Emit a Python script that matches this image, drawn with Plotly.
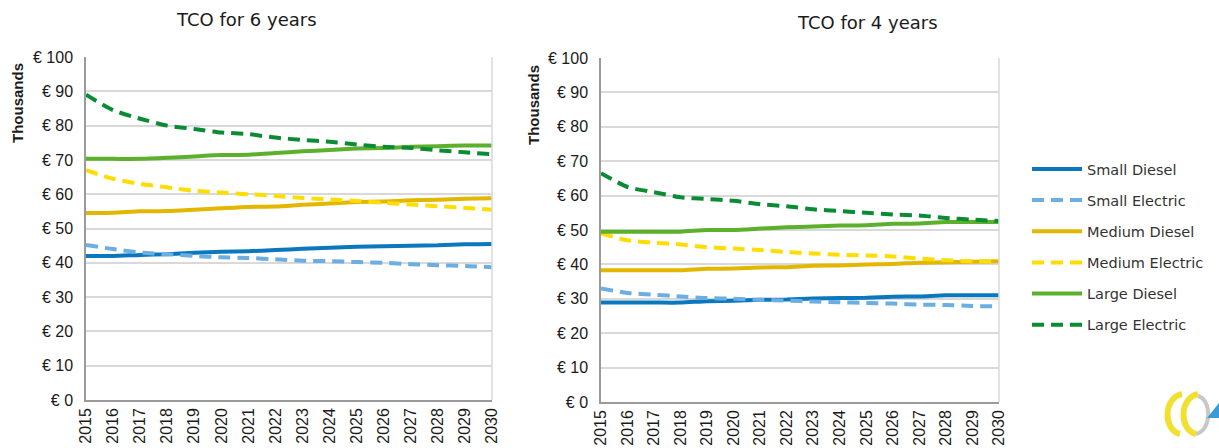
import plotly.graph_objects as go

years = list(range(2015, 2031))
series_names = ["Small Diesel", "Small Electric", "Medium Diesel", "Medium Electric", "Large Diesel", "Large Electric"]

# TCO for 6 years (thousands of euro)
small_diesel_6 = [42.0, 42.0, 42.3, 42.5, 42.9, 43.2, 43.4, 43.7, 44.1, 44.4, 44.7, 44.8, 45.0, 45.1, 45.4, 45.5]
small_electric_6 = [45.2, 44.0, 43.0, 42.5, 42.0, 41.6, 41.4, 41.0, 40.6, 40.5, 40.2, 40.0, 39.6, 39.3, 39.1, 38.7]
medium_diesel_6 = [54.5, 54.6, 55.0, 55.1, 55.5, 55.9, 56.3, 56.4, 56.9, 57.3, 57.7, 57.9, 58.2, 58.4, 58.7, 58.8]
medium_electric_6 = [67.0, 64.5, 63.0, 62.0, 61.0, 60.5, 60.0, 59.5, 58.9, 58.5, 58.0, 57.5, 57.0, 56.5, 56.0, 55.5]
large_diesel_6 = [70.3, 70.3, 70.3, 70.6, 71.0, 71.4, 71.5, 72.0, 72.5, 72.9, 73.3, 73.5, 73.8, 74.0, 74.2, 74.2]
large_electric_6 = [89.0, 84.5, 82.0, 80.0, 79.0, 78.0, 77.5, 76.5, 75.8, 75.3, 74.5, 73.8, 73.5, 72.8, 72.2, 71.7]

# TCO for 4 years (thousands of euro)
small_diesel_4 = [28.9, 28.9, 28.9, 28.9, 29.3, 29.4, 29.7, 29.8, 30.1, 30.2, 30.3, 30.6, 30.7, 31.0, 31.0, 31.0]
small_electric_4 = [33.0, 31.7, 31.2, 30.7, 30.2, 30.0, 29.7, 29.5, 29.2, 29.0, 28.8, 28.6, 28.3, 28.2, 27.9, 27.8]
medium_diesel_4 = [38.3, 38.3, 38.3, 38.3, 38.7, 38.8, 39.1, 39.2, 39.6, 39.7, 40.0, 40.1, 40.5, 40.6, 40.8, 40.9]
medium_electric_4 = [49.0, 47.0, 46.3, 45.8, 45.0, 44.6, 44.2, 43.6, 43.2, 42.8, 42.6, 42.3, 41.7, 41.2, 40.9, 40.9]
large_diesel_4 = [49.5, 49.5, 49.5, 49.5, 50.0, 50.0, 50.4, 50.8, 51.0, 51.3, 51.4, 51.8, 51.9, 52.3, 52.3, 52.3]
large_electric_4 = [66.5, 62.5, 61.0, 59.5, 59.0, 58.5, 57.5, 56.9, 56.0, 55.5, 55.0, 54.5, 54.2, 53.5, 53.0, 52.6]

y_tick_values = [0, 10, 20, 30, 40, 50, 60, 70, 80, 90, 100]
y_tick_labels = ["€ " + str(v) for v in y_tick_values]
titles = ["TCO for 6 years", "TCO for 4 years"]

data6 = [small_diesel_6, small_electric_6, medium_diesel_6, medium_electric_6, large_diesel_6, large_electric_6]
data4 = [small_diesel_4, small_electric_4, medium_diesel_4, medium_electric_4, large_diesel_4, large_electric_4]

colors = ["#0B78BE", "#6AAEE2", "#E3B600", "#FFDD00", "#5DB02B", "#0A8C35"]
dashes = ["solid", "12px,7px", "solid", "12px,7px", "solid", "12px,7px"]

fig = go.Figure()
for i, name in enumerate(series_names):
    fig.add_trace(go.Scatter(x=years, y=data6[i], name=name, mode="lines",
                             line=dict(color=colors[i], width=4, dash=dashes[i], shape="spline", smoothing=0.6),
                             legendgroup=name, showlegend=True, xaxis="x", yaxis="y"))
for i, name in enumerate(series_names):
    fig.add_trace(go.Scatter(x=years, y=data4[i], name=name, mode="lines",
                             line=dict(color=colors[i], width=4, dash=dashes[i], shape="spline", smoothing=0.6),
                             legendgroup=name, showlegend=False, xaxis="x2", yaxis="y2"))

W, H = 1219, 448
def px_x(p):
    return p / W
def px_y(p):
    return 1 - p / H

tickfont = dict(family="Liberation Sans, Arial, sans-serif", size=16, color="#1a1a1a")
xcommon = dict(range=[2015, 2030], tickvals=years, ticktext=[str(y) for y in years], tickangle=-90,
               showgrid=False, zeroline=False, showline=True, linecolor="#9a9a9a", linewidth=1.5,
               ticks="", tickfont=tickfont, fixedrange=True, automargin=False)
ycommon = dict(range=[0, 100], tickvals=y_tick_values, ticktext=y_tick_labels, showgrid=True, gridcolor="#d9d9d9",
               gridwidth=1.5, zeroline=False, showline=True, linecolor="#9a9a9a", linewidth=1.5, ticks="",
               tickfont=tickfont, ticklabelstandoff=8, fixedrange=True, automargin=False)

fig.update_layout(
    width=W, height=H,
    margin=dict(l=0, r=0, t=0, b=0, autoexpand=False),
    paper_bgcolor="white", plot_bgcolor="white",
    xaxis=dict(domain=[px_x(86), px_x(492)], anchor="y", **xcommon),
    yaxis=dict(domain=[px_y(400), px_y(57)], anchor="x", **ycommon),
    xaxis2=dict(domain=[px_x(601), px_x(999)], anchor="y2", **xcommon),
    yaxis2=dict(domain=[px_y(402), px_y(58)], anchor="x2", **ycommon),
    legend=dict(x=px_x(1027), y=px_y(153), xanchor="left", yanchor="top",
                font=dict(family="DejaVu Sans, sans-serif", size=14.5, color="#333333"),
                tracegroupgap=9.3, itemwidth=50, bgcolor="rgba(0,0,0,0)"),
    showlegend=True,
)

# right borders of the plot areas
for xr, yr in [("x domain", "y domain"), ("x2 domain", "y2 domain")]:
    fig.add_shape(type="line", xref=xr, yref=yr, x0=1, x1=1, y0=0, y1=1,
                  line=dict(color="#d9d9d9", width=1.5))

title_font = dict(family="DejaVu Sans, sans-serif", size=18, color="#1a1a1a")
fig.add_annotation(text=titles[0], x=px_x(246), y=px_y(20), xref="paper", yref="paper",
                   showarrow=False, font=title_font, xanchor="center", yanchor="middle")
fig.add_annotation(text=titles[1], x=px_x(867), y=px_y(22), xref="paper", yref="paper",
                   showarrow=False, font=title_font, xanchor="center", yanchor="middle")

ylab_font = dict(family="Liberation Sans, Arial, sans-serif", size=15, color="#1a1a1a")
for xp, yp in [(17, 103), (533, 105)]:
    fig.add_annotation(text="<b>Thousands</b>", x=px_x(xp), y=px_y(yp), xref="paper", yref="paper",
                       showarrow=False, font=ylab_font, textangle=-90, xanchor="center", yanchor="middle")

# small decorative logo, bottom right
def pth(points):
    (x0, y0), (c1x, c1y), (c2x, c2y), (x1, y1) = points
    return "M {} {} C {} {}, {} {}, {} {}".format(px_x(x0), px_y(y0), px_x(c1x), px_y(c1y),
                                                   px_x(c2x), px_y(c2y), px_x(x1), px_y(y1))
fig.add_shape(type="path", xref="paper", yref="paper",
              path=pth([(1198, 396), (1212, 400), (1212, 430), (1196, 434)]),
              line=dict(color="#c8c8c8", width=4))
fig.add_shape(type="path", xref="paper", yref="paper",
              path=pth([(1182, 394), (1163, 398), (1163, 430), (1180, 434)]),
              line=dict(color="#F2E030", width=6))
fig.add_shape(type="path", xref="paper", yref="paper",
              path=pth([(1198, 394), (1179, 398), (1179, 430), (1196, 434)]),
              line=dict(color="#F2E030", width=6))
fig.add_shape(type="path", xref="paper", yref="paper",
              path="M {} {} L {} {} L {} {} Z".format(px_x(1219), px_y(403), px_x(1219), px_y(418), px_x(1207), px_y(418)),
              fillcolor="#3A9BDC", line=dict(width=0))

fig.write_html("out.html", config={"displayModeBar": False},
               post_script="document.body.style.margin='0px';document.body.style.overflow='hidden';")
